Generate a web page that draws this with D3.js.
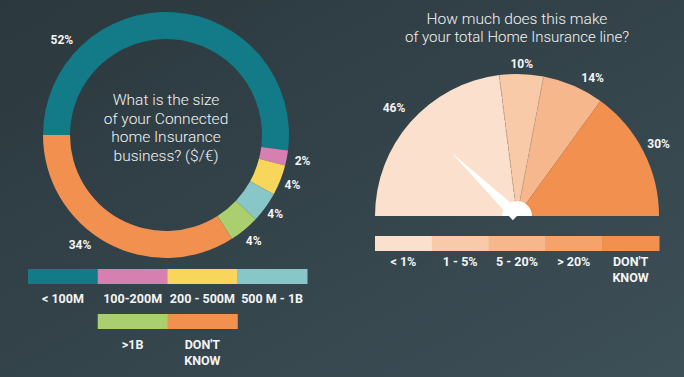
<!DOCTYPE html>
<html>
<head>
<meta charset="utf-8">
<script src="https://cdn.jsdelivr.net/npm/d3@7"></script>
<style>
html,body{margin:0;padding:0;background:#2e3c42;}
svg{display:block;}
</style>
</head>
<body>
<svg id="chart" width="684" height="377"></svg>
<script>
// ---- data ----
const sizeCategories = ["< 100M", "100-200M", "200 - 500M", "500 M - 1B", ">1B", "DON'T KNOW"];
const sizeValues = [52, 2, 4, 4, 4, 34];
const sizeColors = ["#127b87", "#d580b0", "#f7d65b", "#88c6c8", "#abce6f", "#f2914f"];
const sizeTitle = ["What is the size", "of your Connected", "home Insurance", "business? ($/€)"];

const shareCategories = ["< 1%", "1 - 5%", "5 - 20%", "> 20%", "DON'T KNOW"];
const shareValues = [46, 10, 14, 0, 30];
const shareColors = ["#fbe0cd", "#f9caa8", "#f7b78c", "#f5a36c", "#f2914f"];
const shareTitle = ["How much does this make", "of your total Home Insurance line?"];

// ---- layout ----
const W = 684, H = 377;
const svg = d3.select("#chart");
const defs = svg.append("defs");
const bg = defs.append("linearGradient").attr("id", "bg")
  .attr("x1", "0%").attr("y1", "0%").attr("x2", "100%").attr("y2", "100%");
bg.append("stop").attr("offset", "0%").attr("stop-color", "#2b383e");
bg.append("stop").attr("offset", "100%").attr("stop-color", "#3d4f57");
svg.append("rect").attr("width", W).attr("height", H).attr("fill", "url(#bg)");

const labelFont = "Roboto, 'Liberation Sans', sans-serif";
const textColor = "#f4f4f4";
const fmt = v => v + "%";

// ---- donut ----
const dcx = 166, dcy = 135, rOut = 123, rIn = 96;
const donut = svg.append("g").attr("transform", `translate(${dcx},${dcy})`);
const pie = d3.pie().sort(null).value(d => d).startAngle(-Math.PI / 2).endAngle(3 * Math.PI / 2);
const arcsD = pie(sizeValues);
const arcD = d3.arc().innerRadius(rIn).outerRadius(rOut);
donut.selectAll("path").data(arcsD).join("path")
  .attr("d", arcD).attr("fill", (d, i) => sizeColors[i]);

// label angles: mid-angle, with the two large slices moved to their own spots
const deg = Math.PI / 180;
const donutLabelAngle = (d, i) => {
  if (i === 0) return -47.6 * deg;
  if (i === arcsD.length - 1) return 218 * deg;
  return (d.startAngle + d.endAngle) / 2;
};
const donutLabelR = [141, 139, 136, 135, 137.5, 139.6];
donut.selectAll("text.val").data(arcsD).join("text")
  .attr("class", "val")
  .attr("x", (d, i) => Math.sin(donutLabelAngle(d, i)) * donutLabelR[i])
  .attr("y", (d, i) => -Math.cos(donutLabelAngle(d, i)) * donutLabelR[i])
  .attr("text-anchor", "middle").attr("dominant-baseline", "central")
  .attr("font-family", labelFont).attr("font-weight", 700).attr("font-size", 12)
  .attr("fill", textColor).text(d => fmt(d.data));

donut.append("text")
  .attr("text-anchor", "middle")
  .attr("font-family", labelFont).attr("font-weight", 300).attr("font-size", 15.5)
  .attr("fill", textColor)
  .selectAll("tspan").data(sizeTitle).join("tspan")
  .attr("x", 0).attr("y", (d, i) => -30 + i * 18.7).text(d => d);

// left legend
const legL = svg.append("g");
const xL = d3.scaleBand().domain(d3.range(4)).range([28, 307]).paddingInner(0).paddingOuter(0);
const legRow = i => i < 4 ? 0 : 1;
const legCol = i => i < 4 ? i : i - 3;
const legBarY = [269, 314];
const legTextY = [303, 349];
legL.selectAll("rect").data(sizeCategories).join("rect")
  .attr("x", (d, i) => xL(legCol(i)))
  .attr("y", (d, i) => legBarY[legRow(i)])
  .attr("width", xL.bandwidth() + 0.5).attr("height", 15)
  .attr("fill", (d, i) => sizeColors[i]);
legL.selectAll("text").data(sizeCategories).join("text")
  .attr("text-anchor", "middle")
  .attr("font-family", labelFont).attr("font-weight", 700).attr("font-size", 12.5)
  .attr("fill", textColor)
  .each(function (d, i) {
    const words = d === "DON'T KNOW" ? ["DON'T", "KNOW"] : [d];
    d3.select(this).selectAll("tspan").data(words).join("tspan")
      .attr("x", xL(legCol(i)) + xL.bandwidth() / 2)
      .attr("y", (w, j) => legTextY[legRow(i)] + j * 16)
      .text(w => w);
  });

// ---- gauge ----
const gcx = 517, gcy = 216, gR = 142;
const gauge = svg.append("g").attr("transform", `translate(${gcx},${gcy})`);
const gpie = d3.pie().sort(null).value(d => d).startAngle(-Math.PI / 2).endAngle(Math.PI / 2);
const arcsG = gpie(shareValues);
const arcG = d3.arc().innerRadius(0).outerRadius(gR);
gauge.selectAll("path.seg").data(arcsG).join("path")
  .attr("class", "seg").attr("d", arcG).attr("fill", (d, i) => shareColors[i]);

// dashed separators between the light segments
const sepAngles = arcsG.slice(0, 2).map(d => d.endAngle);
gauge.selectAll("line.sep").data(sepAngles).join("line")
  .attr("class", "sep")
  .attr("x1", 0).attr("y1", 0)
  .attr("x2", a => Math.sin(a) * gR).attr("y2", a => -Math.cos(a) * gR)
  .attr("stroke", "#c3a08b").attr("stroke-width", 0.9).attr("stroke-dasharray", "4,2");

// labels
const gLabelR = [164, 152, 157, 158, 159];
const gLabelShift = [0, 0, 5.4 * deg, 0, 0];
gauge.selectAll("text.val").data(arcsG.filter(d => d.data > 0)).join("text")
  .attr("class", "val")
  .each(function (d) {
    const i = d.index;
    const a = (d.startAngle + d.endAngle) / 2 + gLabelShift[i];
    d3.select(this).attr("x", Math.sin(a) * gLabelR[i]).attr("y", -Math.cos(a) * gLabelR[i]);
  })
  .attr("text-anchor", "middle").attr("dominant-baseline", "central")
  .attr("font-family", labelFont).attr("font-weight", 700).attr("font-size", 12)
  .attr("fill", textColor).text(d => fmt(d.data));

// needle
const needleAngle = -46 * deg;  // clockwise from 12 o'clock
const needleLen = 91, needleHalf = 6;
const tip = [Math.sin(needleAngle) * needleLen, -Math.cos(needleAngle) * needleLen];
const perp = [Math.cos(needleAngle) * needleHalf, Math.sin(needleAngle) * needleHalf];
const np = d3.path();
np.moveTo(tip[0], tip[1]);
np.lineTo(perp[0], perp[1]);
np.lineTo(-perp[0], -perp[1]);
np.closePath();
gauge.append("path").attr("d", np.toString()).attr("fill", "#ffffff");
gauge.append("path")
  .attr("d", d3.arc().innerRadius(0).outerRadius(15).startAngle(-Math.PI / 2).endAngle(Math.PI / 2)())
  .attr("fill", "#ffffff");

// title
svg.append("text")
  .attr("text-anchor", "middle")
  .attr("font-family", labelFont).attr("font-weight", 300)
  .attr("fill", textColor)
  .selectAll("tspan").data(shareTitle).join("tspan")
  .attr("x", gcx).attr("y", (d, i) => 24 + i * 18)
  .attr("font-size", (d, i) => i === 0 ? 15.5 : 15)
  .text(d => d);

// right legend
const xR = d3.scaleBand().domain(shareCategories).range([375, 659]);
const legR = svg.append("g");
legR.selectAll("rect").data(shareCategories).join("rect")
  .attr("x", d => xR(d)).attr("y", 236)
  .attr("width", xR.bandwidth() + 0.5).attr("height", 15)
  .attr("fill", (d, i) => shareColors[i]);
legR.selectAll("text").data(shareCategories).join("text")
  .attr("text-anchor", "middle")
  .attr("font-family", labelFont).attr("font-weight", 700).attr("font-size", 12.5)
  .attr("fill", textColor)
  .each(function (d) {
    const words = d === "DON'T KNOW" ? ["DON'T", "KNOW"] : [d];
    d3.select(this).selectAll("tspan").data(words).join("tspan")
      .attr("x", xR(d) + xR.bandwidth() / 2)
      .attr("y", (w, j) => 266 + j * 16)
      .text(w => w);
  });
</script>
</body>
</html>
